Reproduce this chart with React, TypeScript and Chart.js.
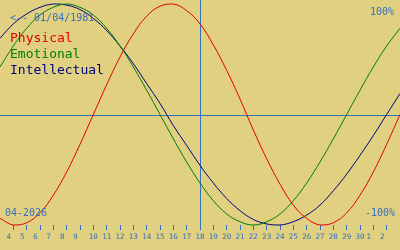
import React, { useEffect, useRef } from 'react';
import { Chart, registerables } from 'chart.js';

Chart.register(...registerables);

// Days of April 2026 shown (3 .. 33 = May 3)
const DAYS = [3, 4, 5, 6, 7, 8, 9, 10, 11, 12, 13, 14, 15, 16, 17, 18, 19, 20, 21, 22, 23, 24, 25, 26, 27, 28, 29, 30, 31, 32, 33];
const PHYSICAL = [-94, -100, -98, -89, -73, -52, -27, 0, 27, 52, 73, 89, 98, 100, 94, 82, 63, 40, 14, -14, -40, -63, -82, -94, -100, -98, -89, -73, -52, -27, 0];
const EMOTIONAL = [43, 62, 78, 90, 97, 100, 97, 90, 78, 62, 43, 22, 0, -22, -43, -62, -78, -90, -97, -100, -97, -90, -78, -62, -43, -22, 0, 22, 43, 62, 78];
const INTELLECTUAL = [69, 82, 91, 97, 100, 99, 95, 87, 76, 62, 46, 28, 10, -10, -28, -46, -62, -76, -87, -95, -99, -100, -97, -91, -82, -69, -54, -37, -19, 0, 19];

const TICK_DAYS = [4, 5, 6, 7, 8, 9, 10, 11, 12, 13, 14, 15, 16, 17, 18, 19, 20, 21, 22, 23, 24, 25, 26, 27, 28, 29, 30, 31, 32];
const TICK_LABELS = ['4', '5', '6', '7', '8', '9', '10', '11', '12', '13', '14', '15', '16', '17', '18', '19', '20', '21', '22', '23', '24', '25', '26', '27', '28', '29', '30', '1', '2'];

const SERIES_NAMES = ['Physical', 'Emotional', 'Intellectual'];
const SERIES_COLORS = ['#e00000', '#008000', '#000080'];
const TODAY = 18;
const BIRTH_TEXT = '<-- 01/04/1981';
const MONTH_TEXT = '04-2026';
const TOP_TEXT = '100%';
const BOTTOM_TEXT = '-100%';

const BG = '#e0d080';
const AXIS_BLUE = '#3470c0';
const MONO = '"DejaVu Sans Mono", monospace';

export default function App() {
  const ref = useRef<HTMLCanvasElement | null>(null);

  useEffect(() => {
    document.body.style.margin = '0';
    const canvas = ref.current;
    if (!canvas) return;

    const overlay = {
      id: 'bioOverlay',
      beforeDraw(chart: any) {
        const ctx = chart.ctx;
        ctx.save();
        ctx.fillStyle = BG;
        ctx.fillRect(0, 0, chart.width, chart.height);
        ctx.restore();
      },
      beforeDatasetsDraw(chart: any) {
        const ctx = chart.ctx;
        const xs = chart.scales.x;
        const ys = chart.scales.y;
        ctx.save();
        ctx.strokeStyle = AXIS_BLUE;
        ctx.lineWidth = 1;
        const y0 = Math.round(ys.getPixelForValue(0)) + 0.5;
        ctx.beginPath();
        ctx.moveTo(0, y0);
        ctx.lineTo(chart.width, y0);
        ctx.stroke();
        const xt = Math.round(xs.getPixelForValue(TODAY)) + 0.5;
        ctx.beginPath();
        ctx.moveTo(xt, 0);
        ctx.lineTo(xt, chart.chartArea.bottom + 5);
        ctx.stroke();
        ctx.restore();
      },
      afterDraw(chart: any) {
        const ctx = chart.ctx;
        ctx.save();
        ctx.textBaseline = 'alphabetic';
        ctx.fillStyle = AXIS_BLUE;
        ctx.font = `10px ${MONO}`;
        ctx.textAlign = 'left';
        ctx.fillText(BIRTH_TEXT, 10, 21);
        ctx.fillText(MONTH_TEXT, 5, 216);
        ctx.textAlign = 'right';
        ctx.fillText(TOP_TEXT, 394, 15);
        ctx.fillText(BOTTOM_TEXT, 395, 216);
        ctx.textAlign = 'left';
        ctx.font = `13px ${MONO}`;
        const baselines = [42, 58, 74];
        SERIES_NAMES.forEach((name, i) => {
          ctx.fillStyle = SERIES_COLORS[i];
          ctx.fillText(name, 10, baselines[i]);
        });
        ctx.restore();
      },
    };

    const mk = (vals: number[]) => DAYS.map((d, i) => ({ x: d, y: vals[i] }));

    const chart = new Chart(canvas, {
      type: 'line',
      data: {
        datasets: [
          { label: SERIES_NAMES[0], data: mk(PHYSICAL), borderColor: SERIES_COLORS[0] },
          { label: SERIES_NAMES[1], data: mk(EMOTIONAL), borderColor: SERIES_COLORS[1] },
          { label: SERIES_NAMES[2], data: mk(INTELLECTUAL), borderColor: SERIES_COLORS[2] },
        ].map((d) => ({ ...d, borderWidth: 1, pointRadius: 0, tension: 0.4, fill: false, clip: false as any })),
      },
      options: {
        animation: false,
        responsive: false,
        maintainAspectRatio: false,
        devicePixelRatio: 1,
        layout: { padding: { top: 4, left: 0, right: 0, bottom: 0 } },
        plugins: { legend: { display: false }, tooltip: { enabled: false }, title: { display: false } },
        scales: {
          x: {
            type: 'linear',
            min: 3,
            max: 33,
            border: { display: false },
            grid: { drawOnChartArea: false, drawTicks: true, tickLength: 5, color: AXIS_BLUE, lineWidth: 1 },
            afterBuildTicks: (s: any) => {
              s.ticks = TICK_DAYS.map((v) => ({ value: v }));
            },
            afterFit: (s: any) => {
              s.height = 25;
            },
            ticks: {
              autoSkip: false,
              maxRotation: 0,
              minRotation: 0,
              padding: 3,
              color: AXIS_BLUE,
              font: { family: MONO, size: 7.5 },
              callback: (v: any) => {
                const idx = TICK_DAYS.indexOf(Number(v));
                const lab = idx >= 0 ? TICK_LABELS[idx] : '';
                return lab.length === 1 ? lab + '  ' : lab;
              },
            },
          },
          y: { display: false, min: -100, max: 100 },
        },
      },
      plugins: [overlay],
    });

    return () => chart.destroy();
  }, []);

  return (
    <div style={{ width: 400, height: 250 }}>
      <canvas ref={ref} width={400} height={250} style={{ display: 'block', width: 400, height: 250 }} />
    </div>
  );
}
